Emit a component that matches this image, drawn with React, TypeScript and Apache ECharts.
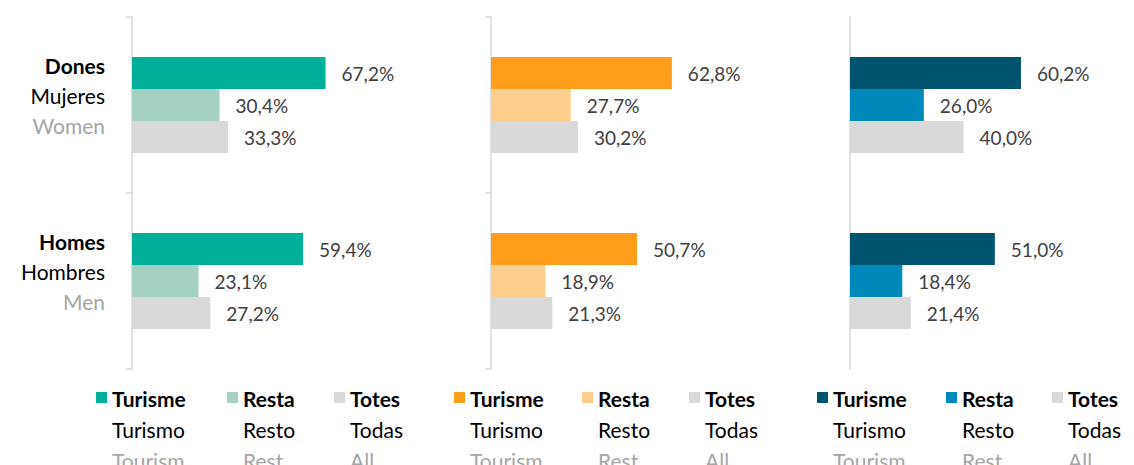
import React, { useEffect, useRef } from "react";
import * as echarts from "echarts";

const categoriesCa = ["Dones", "Homes"];
const categoriesEs = ["Mujeres", "Hombres"];
const categoriesEn = ["Women", "Men"];

const seriesCa = ["Turisme", "Resta", "Totes"];
const seriesEs = ["Turismo", "Resto", "Todas"];
const seriesEn = ["Tourism", "Rest", "All"];

// panel values: [Dones, Homes]
const panel1Turisme = [67.2, 59.4];
const panel1Resta = [30.4, 23.1];
const panel1Totes = [33.3, 27.2];

const panel2Turisme = [62.8, 50.7];
const panel2Resta = [27.7, 18.9];
const panel2Totes = [30.2, 21.3];

const panel3Turisme = [60.2, 51.0];
const panel3Resta = [26.0, 18.4];
const panel3Totes = [40.0, 21.4];

const panelValues = [
  [panel1Turisme, panel1Resta, panel1Totes],
  [panel2Turisme, panel2Resta, panel2Totes],
  [panel3Turisme, panel3Resta, panel3Totes],
];

const panelColors = [
  ["#00af9a", "#a5d1c2", "#d9d9d9"],
  ["#ff9e1b", "#ffcd8c", "#d9d9d9"],
  ["#00536e", "#0088bb", "#d9d9d9"],
];

const FONT = "Lato";
const LABEL_SIZE = 21;

export default function App() {
  const ref = useRef<HTMLDivElement>(null);

  useEffect(() => {
    if (!ref.current) return;
    const chart = echarts.init(ref.current, undefined, { renderer: "svg" });

    const gridLefts = [132, 491, 850];
    const legendLefts = [
      [96, 227, 334],
      [454, 582, 689],
      [817, 946, 1052],
    ];

    const grids = gridLefts.map((l) => ({ left: l, top: 17, width: 288, height: 352 }));
    const xAxes = gridLefts.map((_, i) => ({
      type: "value",
      gridIndex: i,
      min: 0,
      max: 100,
      show: false,
    }));
    const yAxes = gridLefts.map((_, i) => ({
      type: "category",
      gridIndex: i,
      inverse: true,
      data: categoriesCa,
      axisLine: { show: true, lineStyle: { color: "#d9d9d9", width: 1.5 } },
      axisTick: { show: i < 2, length: 6, lineStyle: { color: "#d9d9d9", width: 1.5 } },
      axisLabel:
        i === 0
          ? {
              show: true,
              margin: 27,
              align: "right",
              padding: [0, 0, 20, 0],
              formatter: (v: string) => {
                const k = categoriesCa.indexOf(v);
                return `{b|${categoriesCa[k]}}\n{n|${categoriesEs[k]}}\n{g|${categoriesEn[k]}}`;
              },
              rich: {
                b: { fontFamily: FONT, fontSize: LABEL_SIZE, fontWeight: "bold", color: "#000", lineHeight: 30, align: "right" },
                n: { fontFamily: FONT, fontSize: LABEL_SIZE, color: "#000", lineHeight: 30, align: "right" },
                g: { fontFamily: FONT, fontSize: LABEL_SIZE, color: "#a6a6a6", lineHeight: 30, align: "right" },
              },
            }
          : { show: false },
      splitLine: { show: false },
    }));

    const series: any[] = [];
    const legends: any[] = [];
    panelValues.forEach((vals, p) => {
      vals.forEach((data, s) => {
        const name = `${seriesCa[s]} ${p + 1}`;
        series.push({
          type: "bar",
          name,
          xAxisIndex: p,
          yAxisIndex: p,
          data,
          barWidth: 32,
          barGap: "0%",
          itemStyle: { color: panelColors[p][s] },
          label: {
            show: true,
            position: "right",
            distance: 16,
            fontFamily: FONT,
            fontSize: 19,
            color: "#404040",
            formatter: (prm: any) => prm.value.toFixed(1).replace(".", ",") + "%",
          },
        });
        legends.push({
          show: true,
          left: legendLefts[p][s],
          top: 382.5,
          orient: "horizontal",
          itemWidth: 11,
          itemHeight: 93,
          padding: 0,
          icon: "path://M0 9.5H11V20.5H0Z M0 0H0.001V0.001H0Z M0 93H0.001V93.001H0Z",
          data: [{ name, itemStyle: { color: panelColors[p][s] } }],
          formatter: () => `{b|${seriesCa[s]}}\n{n|${seriesEs[s]}}\n{g|${seriesEn[s]}}`,
          textStyle: {
            rich: {
              b: { fontFamily: FONT, fontSize: LABEL_SIZE, fontWeight: "bold", color: "#000", lineHeight: 31 },
              n: { fontFamily: FONT, fontSize: LABEL_SIZE, color: "#000", lineHeight: 31 },
              g: { fontFamily: FONT, fontSize: LABEL_SIZE, color: "#a6a6a6", lineHeight: 31 },
            },
          },
          selectedMode: false,
        });
      });
    });

    chart.setOption({
      animation: false,
      backgroundColor: "#ffffff",
      grid: grids,
      xAxis: xAxes,
      yAxis: yAxes,
      legend: legends,
      series,
    });

    return () => chart.dispose();
  }, []);

  return (
    <div
      ref={ref}
      style={{ position: "fixed", left: 0, top: 0, width: 1134, height: 465 }}
    />
  );
}
